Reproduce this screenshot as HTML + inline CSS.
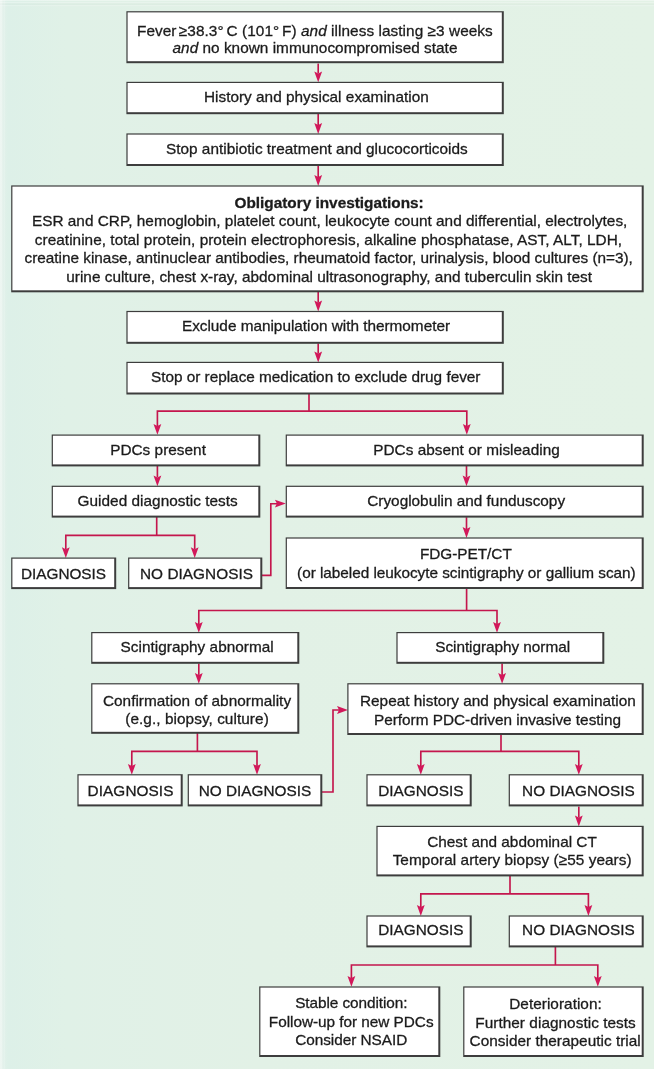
<!DOCTYPE html><html><head><meta charset="utf-8"><title>FUO flowchart</title><style>
html,body{margin:0;padding:0;}
body{width:654px;height:1069px;background:#e2f1e6;overflow:hidden;}
svg{display:block;}
text{font-family:"Liberation Sans",sans-serif;font-size:15.35px;fill:#1b1b1b;text-anchor:middle;stroke:#1b1b1b;stroke-width:0.3px;}
#labels{filter:blur(0.25px);}
</style></head><body>
<svg width="654" height="1069" viewBox="0 0 654 1069">
<defs><linearGradient id="bg" x1="0" y1="0" x2="1" y2="0"><stop offset="0" stop-color="#e6f2ec"/><stop offset="0.012" stop-color="#ddf0e8"/><stop offset="0.10" stop-color="#e0f1e7"/><stop offset="0.4" stop-color="#e2f1e6"/><stop offset="1" stop-color="#e3f2e6"/></linearGradient></defs>
<rect width="654" height="1069" fill="url(#bg)"/>
<g id="edge"><rect x="0" y="0" width="654" height="1" fill="#fff" opacity="0.35"/><rect x="0" y="2" width="654" height="1.3" fill="#fff" opacity="0.25"/><rect x="0" y="5" width="654" height="1.2" fill="#fff" opacity="0.2"/><rect x="0" y="3.4" width="654" height="1.5" fill="#000" opacity="0.02"/><rect x="0" y="0" width="2.4" height="1069" fill="#fff" opacity="0.3"/><rect x="3.6" y="0" width="1.4" height="1069" fill="#fff" opacity="0.15"/></g>
<g id="arrows"><path d="M318.2,63.6 L318.2,73.39999999999999" fill="none" stroke="#c4164d" stroke-width="1.65" stroke-linejoin="miter"/>
<path d="M318.2,82.3 L314.3,71.39999999999999 L318.2,73.39999999999999 L322.09999999999997,71.39999999999999 Z" fill="#d2185a"/>
<path d="M318.2,113.6 L318.2,125.1" fill="none" stroke="#c4164d" stroke-width="1.65" stroke-linejoin="miter"/>
<path d="M318.2,134.0 L314.3,123.1 L318.2,125.1 L322.09999999999997,123.1 Z" fill="#d2185a"/>
<path d="M318.2,165.6 L318.2,177.1" fill="none" stroke="#c4164d" stroke-width="1.65" stroke-linejoin="miter"/>
<path d="M318.2,186.0 L314.3,175.1 L318.2,177.1 L322.09999999999997,175.1 Z" fill="#d2185a"/>
<path d="M318.2,291.90000000000003 L318.2,302.6" fill="none" stroke="#c4164d" stroke-width="1.65" stroke-linejoin="miter"/>
<path d="M318.2,311.5 L314.3,300.6 L318.2,302.6 L322.09999999999997,300.6 Z" fill="#d2185a"/>
<path d="M318.2,343.40000000000003 L318.2,353.5" fill="none" stroke="#c4164d" stroke-width="1.65" stroke-linejoin="miter"/>
<path d="M318.2,362.4 L314.3,351.5 L318.2,353.5 L322.09999999999997,351.5 Z" fill="#d2185a"/>
<path d="M309.0,393.5 L309.0,411.1" fill="none" stroke="#c4164d" stroke-width="1.65" stroke-linejoin="miter"/>
<path d="M157.4,425.90000000000003 L157.4,411.1 L466.8,411.1 L466.8,425.90000000000003" fill="none" stroke="#c4164d" stroke-width="1.65" stroke-linejoin="miter"/>
<path d="M157.4,434.8 L153.5,423.90000000000003 L157.4,425.90000000000003 L161.3,423.90000000000003 Z" fill="#d2185a"/>
<path d="M466.8,434.8 L462.90000000000003,423.90000000000003 L466.8,425.90000000000003 L470.7,423.90000000000003 Z" fill="#d2185a"/>
<path d="M157.4,466.0 L157.4,477.40000000000003" fill="none" stroke="#c4164d" stroke-width="1.65" stroke-linejoin="miter"/>
<path d="M157.4,486.3 L153.5,475.40000000000003 L157.4,477.40000000000003 L161.3,475.40000000000003 Z" fill="#d2185a"/>
<path d="M466.5,466.0 L466.5,477.40000000000003" fill="none" stroke="#c4164d" stroke-width="1.65" stroke-linejoin="miter"/>
<path d="M466.5,486.3 L462.6,475.40000000000003 L466.5,477.40000000000003 L470.4,475.40000000000003 Z" fill="#d2185a"/>
<path d="M466.5,517.2 L466.5,529.1" fill="none" stroke="#c4164d" stroke-width="1.65" stroke-linejoin="miter"/>
<path d="M466.5,538.0 L462.6,527.1 L466.5,529.1 L470.4,527.1 Z" fill="#d2185a"/>
<path d="M156.7,517 L156.7,535.3" fill="none" stroke="#c4164d" stroke-width="1.65" stroke-linejoin="miter"/>
<path d="M65.8,549.2 L65.8,535.3 L194.7,535.3 L194.7,549.2" fill="none" stroke="#c4164d" stroke-width="1.65" stroke-linejoin="miter"/>
<path d="M65.8,558.1 L61.9,547.2 L65.8,549.2 L69.7,547.2 Z" fill="#d2185a"/>
<path d="M194.7,558.1 L190.79999999999998,547.2 L194.7,549.2 L198.6,547.2 Z" fill="#d2185a"/>
<path d="M262,575.3 L270.8,575.3 L270.8,503.7 L277.1,503.7" fill="none" stroke="#c4164d" stroke-width="1.65" stroke-linejoin="miter"/>
<path d="M285.8,503.6 L274.90000000000003,499.70000000000005 L276.90000000000003,503.6 L274.90000000000003,507.5 Z" fill="#d2185a"/>
<path d="M466.6,588 L466.6,610.5" fill="none" stroke="#c4164d" stroke-width="1.65" stroke-linejoin="miter"/>
<path d="M198.8,623.9 L198.8,610.5 L497,610.5 L497,623.9" fill="none" stroke="#c4164d" stroke-width="1.65" stroke-linejoin="miter"/>
<path d="M198.8,632.8 L194.9,621.9 L198.8,623.9 L202.70000000000002,621.9 Z" fill="#d2185a"/>
<path d="M497,632.8 L493.1,621.9 L497,623.9 L500.9,621.9 Z" fill="#d2185a"/>
<path d="M198.8,663.6 L198.8,674.9" fill="none" stroke="#c4164d" stroke-width="1.65" stroke-linejoin="miter"/>
<path d="M198.8,683.8 L194.9,672.9 L198.8,674.9 L202.70000000000002,672.9 Z" fill="#d2185a"/>
<path d="M502.1,663.6 L502.1,674.9" fill="none" stroke="#c4164d" stroke-width="1.65" stroke-linejoin="miter"/>
<path d="M502.1,683.8 L498.20000000000005,672.9 L502.1,674.9 L506.0,672.9 Z" fill="#d2185a"/>
<path d="M197.4,733 L197.4,751.3" fill="none" stroke="#c4164d" stroke-width="1.65" stroke-linejoin="miter"/>
<path d="M131.8,765.9 L131.8,751.3 L257,751.3 L257,765.9" fill="none" stroke="#c4164d" stroke-width="1.65" stroke-linejoin="miter"/>
<path d="M131.8,774.8 L127.9,763.9 L131.8,765.9 L135.70000000000002,763.9 Z" fill="#d2185a"/>
<path d="M257,774.8 L253.1,763.9 L257,765.9 L260.9,763.9 Z" fill="#d2185a"/>
<path d="M322,792 L333,792 L333,710 L339.1,710" fill="none" stroke="#c4164d" stroke-width="1.65" stroke-linejoin="miter"/>
<path d="M347.9,710 L337.0,706.1 L339.0,710 L337.0,713.9 Z" fill="#d2185a"/>
<path d="M501,734 L501,751.3" fill="none" stroke="#c4164d" stroke-width="1.65" stroke-linejoin="miter"/>
<path d="M420.8,765.9 L420.8,751.3 L578.8,751.3 L578.8,765.9" fill="none" stroke="#c4164d" stroke-width="1.65" stroke-linejoin="miter"/>
<path d="M420.8,774.8 L416.90000000000003,763.9 L420.8,765.9 L424.7,763.9 Z" fill="#d2185a"/>
<path d="M578.8,774.8 L574.9,763.9 L578.8,765.9 L582.6999999999999,763.9 Z" fill="#d2185a"/>
<path d="M578.8,806.6 L578.8,817.5" fill="none" stroke="#c4164d" stroke-width="1.65" stroke-linejoin="miter"/>
<path d="M578.8,826.4 L574.9,815.5 L578.8,817.5 L582.6999999999999,815.5 Z" fill="#d2185a"/>
<path d="M510,876 L510,893.8" fill="none" stroke="#c4164d" stroke-width="1.65" stroke-linejoin="miter"/>
<path d="M420.8,907.1 L420.8,893.8 L588.4,893.8 L588.4,907.1" fill="none" stroke="#c4164d" stroke-width="1.65" stroke-linejoin="miter"/>
<path d="M420.8,916 L416.90000000000003,905.1 L420.8,907.1 L424.7,905.1 Z" fill="#d2185a"/>
<path d="M588.4,916 L584.5,905.1 L588.4,907.1 L592.3,905.1 Z" fill="#d2185a"/>
<path d="M555.4,947 L555.4,965" fill="none" stroke="#c4164d" stroke-width="1.65" stroke-linejoin="miter"/>
<path d="M351.4,977.9 L351.4,965 L597.8,965 L597.8,977.9" fill="none" stroke="#c4164d" stroke-width="1.65" stroke-linejoin="miter"/>
<path d="M351.4,986.8 L347.5,975.9 L351.4,977.9 L355.29999999999995,975.9 Z" fill="#d2185a"/>
<path d="M597.8,986.8 L593.9,975.9 L597.8,977.9 L601.6999999999999,975.9 Z" fill="#d2185a"/></g>
<g id="boxes"><rect x="126.40" y="11.20" width="377.40" height="52.00" fill="#3d3d3d"/>
<rect x="127.60" y="12.40" width="374.20" height="48.80" fill="#fff"/>
<rect x="126.40" y="81.80" width="377.40" height="32.40" fill="#3d3d3d"/>
<rect x="127.60" y="83.00" width="374.20" height="29.20" fill="#fff"/>
<rect x="126.40" y="133.40" width="377.40" height="32.60" fill="#3d3d3d"/>
<rect x="127.60" y="134.60" width="374.20" height="29.40" fill="#fff"/>
<rect x="11.20" y="185.40" width="632.50" height="106.90" fill="#3d3d3d"/>
<rect x="12.40" y="186.60" width="629.30" height="103.70" fill="#fff"/>
<rect x="126.40" y="310.90" width="377.40" height="32.90" fill="#3d3d3d"/>
<rect x="127.60" y="312.10" width="374.20" height="29.70" fill="#fff"/>
<rect x="126.40" y="361.80" width="377.40" height="32.70" fill="#3d3d3d"/>
<rect x="127.60" y="363.00" width="374.20" height="29.50" fill="#fff"/>
<rect x="51.70" y="434.50" width="208.60" height="31.90" fill="#3d3d3d"/>
<rect x="52.90" y="435.70" width="205.40" height="28.70" fill="#fff"/>
<rect x="285.70" y="434.50" width="358.00" height="31.90" fill="#3d3d3d"/>
<rect x="286.90" y="435.70" width="354.80" height="28.70" fill="#fff"/>
<rect x="51.70" y="485.70" width="208.60" height="31.90" fill="#3d3d3d"/>
<rect x="52.90" y="486.90" width="205.40" height="28.70" fill="#fff"/>
<rect x="285.70" y="485.70" width="358.00" height="31.90" fill="#3d3d3d"/>
<rect x="286.90" y="486.90" width="354.80" height="28.70" fill="#fff"/>
<rect x="11.20" y="557.50" width="105.00" height="31.60" fill="#3d3d3d"/>
<rect x="12.40" y="558.70" width="101.80" height="28.40" fill="#fff"/>
<rect x="128.10" y="557.50" width="134.20" height="31.60" fill="#3d3d3d"/>
<rect x="129.30" y="558.70" width="131.00" height="28.40" fill="#fff"/>
<rect x="285.70" y="537.40" width="358.00" height="51.60" fill="#3d3d3d"/>
<rect x="286.90" y="538.60" width="354.80" height="48.40" fill="#fff"/>
<rect x="91.20" y="632.00" width="208.10" height="31.80" fill="#3d3d3d"/>
<rect x="92.40" y="633.20" width="204.90" height="28.60" fill="#fff"/>
<rect x="396.40" y="632.00" width="207.90" height="31.80" fill="#3d3d3d"/>
<rect x="397.60" y="633.20" width="204.70" height="28.60" fill="#fff"/>
<rect x="91.20" y="683.20" width="208.10" height="50.60" fill="#3d3d3d"/>
<rect x="92.40" y="684.40" width="204.90" height="47.40" fill="#fff"/>
<rect x="347.30" y="683.20" width="296.40" height="51.80" fill="#3d3d3d"/>
<rect x="348.50" y="684.40" width="293.20" height="48.60" fill="#fff"/>
<rect x="77.40" y="774.20" width="105.30" height="32.20" fill="#3d3d3d"/>
<rect x="78.60" y="775.40" width="102.10" height="29.00" fill="#fff"/>
<rect x="187.70" y="774.20" width="134.60" height="32.20" fill="#3d3d3d"/>
<rect x="188.90" y="775.40" width="131.40" height="29.00" fill="#fff"/>
<rect x="366.40" y="774.20" width="105.30" height="32.20" fill="#3d3d3d"/>
<rect x="367.60" y="775.40" width="102.10" height="29.00" fill="#fff"/>
<rect x="508.70" y="774.20" width="135.00" height="32.20" fill="#3d3d3d"/>
<rect x="509.90" y="775.40" width="131.80" height="29.00" fill="#fff"/>
<rect x="376.40" y="825.80" width="267.30" height="50.60" fill="#3d3d3d"/>
<rect x="377.60" y="827.00" width="264.10" height="47.40" fill="#fff"/>
<rect x="366.40" y="915.40" width="105.30" height="32.00" fill="#3d3d3d"/>
<rect x="367.60" y="916.60" width="102.10" height="28.80" fill="#fff"/>
<rect x="508.70" y="915.40" width="135.00" height="32.00" fill="#3d3d3d"/>
<rect x="509.90" y="916.60" width="131.80" height="28.80" fill="#fff"/>
<rect x="259.20" y="986.40" width="181.10" height="70.60" fill="#3d3d3d"/>
<rect x="260.40" y="987.60" width="177.90" height="67.40" fill="#fff"/>
<rect x="463.20" y="986.40" width="180.50" height="70.60" fill="#3d3d3d"/>
<rect x="464.40" y="987.60" width="177.30" height="67.40" fill="#fff"/></g>
<g id="labels"><text x="314.85" y="35.7" textLength="355.8" lengthAdjust="spacing">Fever <tspan dx="-2">≥</tspan>38.3° <tspan dx="-1.4">C</tspan> (101° <tspan dx="-1.5">F</tspan>) <tspan font-style="italic">and</tspan> illness lasting ≥3 weeks</text>
<text x="315.00" y="53.3" textLength="284.9" lengthAdjust="spacing"><tspan font-style="italic">and</tspan> no known immunocompromised state</text>
<text x="316.35" y="102.0" textLength="224.8" lengthAdjust="spacing">History and physical examination</text>
<text x="316.85" y="154.2" textLength="301.8" lengthAdjust="spacing">Stop antibiotic treatment and glucocorticoids</text>
<text x="329.15" y="208.1" textLength="189.2" lengthAdjust="spacing"><tspan font-weight="bold">Obligatory investigations:</tspan></text>
<text x="329.65" y="226.4" textLength="595.4" lengthAdjust="spacing">ESR and CRP, hemoglobin, platelet count, leukocyte count and differential, electrolytes,</text>
<text x="328.45" y="245.0" textLength="587.2" lengthAdjust="spacing">creatinine, total protein, protein electrophoresis, alkaline phosphatase, AST, ALT, LDH,</text>
<text x="328.70" y="263.1" textLength="608.3" lengthAdjust="spacing">creatine kinase, antinuclear antibodies, rheumatoid factor, urinalysis, blood cultures (n=3),</text>
<text x="329.15" y="281.7" textLength="525.8" lengthAdjust="spacing">urine culture, chest x-ray, abdominal ultrasonography, and tuberculin skin test</text>
<text x="316.00" y="330.9" textLength="268.1" lengthAdjust="spacing">Exclude manipulation with thermometer</text>
<text x="315.70" y="382.3" textLength="329.5" lengthAdjust="spacing">Stop or replace medication to exclude drug fever</text>
<text x="158.05" y="454.8" textLength="95.8" lengthAdjust="spacing">PDCs present</text>
<text x="466.50" y="455.0" textLength="186.5" lengthAdjust="spacing">PDCs absent or misleading</text>
<text x="157.65" y="506.3" textLength="160.2" lengthAdjust="spacing">Guided diagnostic tests</text>
<text x="466.15" y="506.3" textLength="197.8" lengthAdjust="spacing">Cryoglobulin and funduscopy</text>
<text x="63.50" y="578.7" textLength="85.1" lengthAdjust="spacing">DIAGNOSIS</text>
<text x="196.50" y="578.7" textLength="113.1" lengthAdjust="spacing">NO DIAGNOSIS</text>
<text x="465.85" y="558.7" textLength="91.8" lengthAdjust="spacing">FDG-PET/CT</text>
<text x="466.35" y="578.3" textLength="338.6" lengthAdjust="spacing">(or labeled leukocyte scintigraphy or gallium scan)</text>
<text x="197.15" y="652.3" textLength="153.2" lengthAdjust="spacing">Scintigraphy abnormal</text>
<text x="502.65" y="652.3" textLength="134.8" lengthAdjust="spacing">Scintigraphy normal</text>
<text x="197.00" y="706.0" textLength="188.1" lengthAdjust="spacing">Confirmation of abnormality</text>
<text x="197.00" y="724.3" textLength="143.5" lengthAdjust="spacing">(e.g., biopsy, culture)</text>
<text x="497.85" y="706.0" textLength="275.8" lengthAdjust="spacing">Repeat history and physical examination</text>
<text x="497.50" y="725.1" textLength="247.1" lengthAdjust="spacing">Perform PDC-driven invasive testing</text>
<text x="130.50" y="795.7" textLength="85.9" lengthAdjust="spacing">DIAGNOSIS</text>
<text x="254.95" y="795.7" textLength="112.6" lengthAdjust="spacing">NO DIAGNOSIS</text>
<text x="420.85" y="795.8" textLength="85.2" lengthAdjust="spacing">DIAGNOSIS</text>
<text x="578.40" y="795.8" textLength="112.7" lengthAdjust="spacing">NO DIAGNOSIS</text>
<text x="512.00" y="846.7" textLength="169.5" lengthAdjust="spacing">Chest and abdominal CT</text>
<text x="512.15" y="864.7" textLength="239.0" lengthAdjust="spacing">Temporal artery biopsy (≥55 years)</text>
<text x="420.85" y="935.1" textLength="85.2" lengthAdjust="spacing">DIAGNOSIS</text>
<text x="578.40" y="935.1" textLength="112.7" lengthAdjust="spacing">NO DIAGNOSIS</text>
<text x="351.35" y="1008.2" textLength="112.4" lengthAdjust="spacing">Stable condition:</text>
<text x="351.20" y="1026.6" textLength="164.7" lengthAdjust="spacing">Follow-up for new PDCs</text>
<text x="351.20" y="1045.0" textLength="112.1" lengthAdjust="spacing">Consider NSAID</text>
<text x="555.50" y="1009.3" textLength="92.5" lengthAdjust="spacing">Deterioration:</text>
<text x="555.50" y="1027.7" textLength="160.5" lengthAdjust="spacing">Further diagnostic tests</text>
<text x="555.15" y="1046.0" textLength="171.2" lengthAdjust="spacing">Consider therapeutic trial</text></g>
</svg></body></html>
